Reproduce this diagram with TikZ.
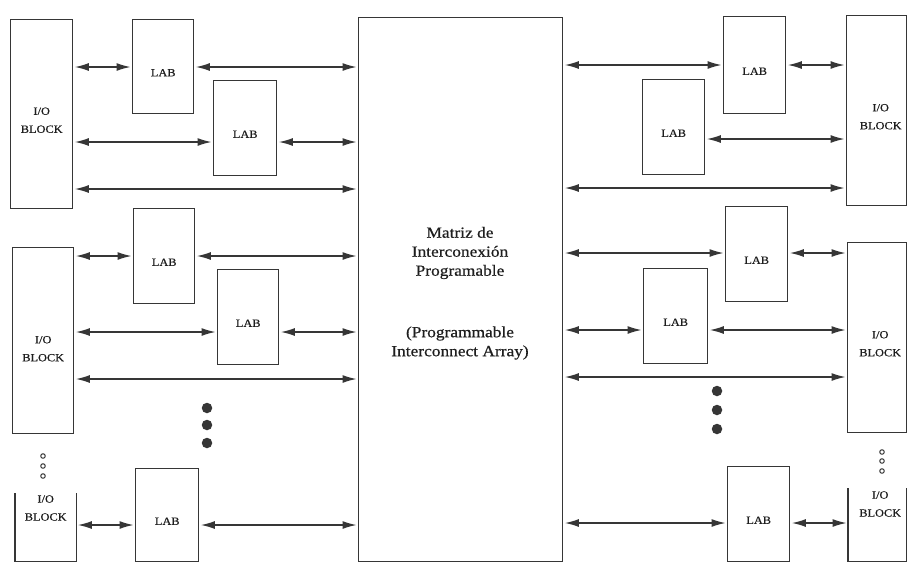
\documentclass[tikz,border=0pt]{standalone}
\usepackage{fontspec}
\setmainfont[FakeStretch=1.12,FakeBold=0.5]{Liberation Serif}
\usetikzlibrary{arrows.meta}
\definecolor{ink}{HTML}{363636}
\definecolor{txt}{HTML}{1E1E1E}
\begin{document}
\begin{tikzpicture}[x=1pt,y=-1pt,
  box/.style={draw=ink, line width=1.4pt, rectangle, inner sep=0pt, anchor=north west},
  openbox/.style={rectangle, inner sep=0pt, anchor=north west},
  edge/.style={draw=ink, line width=1.4pt},
  lbl/.style={text=txt, font=\fontsize{11}{18}\selectfont, align=center, inner sep=0pt},
  big/.style={text=txt, font=\fontsize{15.5}{19}\selectfont, align=center, inner sep=0pt},
  arr/.style={draw=ink, line width=1.3pt, {Latex[length=14pt,width=8pt]}-{Latex[length=14pt,width=8pt]}, shorten <=1.5pt, shorten >=1.5pt},
  dot/.style={circle, fill=ink, inner sep=0pt, minimum size=10.5pt},
  ring/.style={circle, draw=ink, line width=1pt, inner sep=0pt, minimum size=4.5pt}
]
\useasboundingbox[fill=white] (0,0) rectangle (907,563);

% central matrix
\node[box, minimum width=204pt, minimum height=544pt] (pia) at (358,17) {};
\node[big] (piat1) at (460,253) {Matriz de\\Interconexión\\Programable};
\node[big] (piat2) at (460,343) {(Programmable\\Interconnect Array)};

% left side blocks
\node[box, minimum width=62pt, minimum height=189pt] (io1) at (10,19) {};
\node[box, minimum width=61pt, minimum height=94pt] (lab1) at (132,19) {};
\node[box, minimum width=63pt, minimum height=95pt] (lab2) at (213,80) {};
\node[box, minimum width=61pt, minimum height=95pt] (lab3) at (133,208) {};
\node[box, minimum width=61pt, minimum height=186pt] (io2) at (12,247) {};
\node[box, minimum width=61pt, minimum height=95pt] (lab4) at (217,269) {};
\node[openbox, minimum width=61pt, minimum height=68pt] (io3) at (15,493) {};
\draw[edge] (io3.north west) -- (io3.south west) -- (io3.south east) -- (io3.north east);
\node[box, minimum width=63pt, minimum height=93pt] (lab5) at (135,468) {};

% right side blocks
\node[box, minimum width=62pt, minimum height=97pt] (labr1) at (723,16) {};
\node[box, minimum width=60pt, minimum height=190pt] (ior1) at (846,15) {};
\node[box, minimum width=62pt, minimum height=95pt] (labr2) at (642,79) {};
\node[box, minimum width=62pt, minimum height=95pt] (labr3) at (725,206) {};
\node[box, minimum width=59pt, minimum height=190pt] (ior2) at (847,242) {};
\node[box, minimum width=64pt, minimum height=95pt] (labr4) at (643,268) {};
\node[box, minimum width=62pt, minimum height=95pt] (labr5) at (727,466) {};
\node[openbox, minimum width=58pt, minimum height=73pt] (ior3) at (848,488) {};
\draw[edge] (ior3.north west) -- (ior3.south west) -- (ior3.south east) -- (ior3.north east);

% labels
\foreach \b in {lab1,lab2,lab3,lab4,lab5,labr1,labr2,labr3,labr4,labr5}
  \node[lbl] (\b t) at ([yshift=-6pt]\b.center) {LAB};
\node[lbl] (io1t) at ([yshift=-6pt]io1.center) {I/O\\BLOCK};
\node[lbl] (io2t) at ([yshift=-8pt]io2.center) {I/O\\BLOCK};
\node[lbl] (io3t) at ([yshift=-15pt]io3.north) {I/O\\BLOCK};
\node[lbl] (ior1t) at ([yshift=-6pt,xshift=4pt]ior1.center) {I/O\\BLOCK};
\node[lbl] (ior2t) at ([yshift=-6pt,xshift=3pt]ior2.center) {I/O\\BLOCK};
\node[lbl] (ior3t) at ([yshift=-16pt,xshift=3pt]ior3.north) {I/O\\BLOCK};

% row levels
\coordinate (yA) at (0,67);  \coordinate (yB) at (0,142); \coordinate (yC) at (0,189);
\coordinate (yD) at (0,256); \coordinate (yE) at (0,332); \coordinate (yF) at (0,379);
\coordinate (yG) at (0,525);
\coordinate (ya) at (0,65);  \coordinate (yb) at (0,139); \coordinate (yc) at (0,188);
\coordinate (yd) at (0,253); \coordinate (ye) at (0,330); \coordinate (yf) at (0,377);
\coordinate (yg) at (0,523);

% left connectors
\draw[arr] (io1.east |- yA) -- (lab1.west |- yA);
\draw[arr] (lab1.east |- yA) -- (pia.west |- yA);
\draw[arr] (io1.east |- yB) -- (lab2.west |- yB);
\draw[arr] (lab2.east |- yB) -- (pia.west |- yB);
\draw[arr] (io1.east |- yC) -- (pia.west |- yC);
\draw[arr] (io2.east |- yD) -- (lab3.west |- yD);
\draw[arr] (lab3.east |- yD) -- (pia.west |- yD);
\draw[arr] (io2.east |- yE) -- (lab4.west |- yE);
\draw[arr] (lab4.east |- yE) -- (pia.west |- yE);
\draw[arr] (io2.east |- yF) -- (pia.west |- yF);
\draw[arr] (io3.east |- yG) -- (lab5.west |- yG);
\draw[arr] (lab5.east |- yG) -- (pia.west |- yG);

% right connectors
\draw[arr] (pia.east |- ya) -- (labr1.west |- ya);
\draw[arr] (labr1.east |- ya) -- (ior1.west |- ya);
\draw[arr] (labr2.east |- yb) -- (ior1.west |- yb);
\draw[arr] (pia.east |- yc) -- (ior1.west |- yc);
\draw[arr] (pia.east |- yd) -- (labr3.west |- yd);
\draw[arr] (labr3.east |- yd) -- (ior2.west |- yd);
\draw[arr] (pia.east |- ye) -- (labr4.west |- ye);
\draw[arr] (labr4.east |- ye) -- (ior2.west |- ye);
\draw[arr] (pia.east |- yf) -- (ior2.west |- yf);
\draw[arr] (pia.east |- yg) -- (labr5.west |- yg);
\draw[arr] (labr5.east |- yg) -- (ior3.west |- yg);

% continuation dots
\node[dot] (dl1) at (207,408) {};
\node[dot] (dl2) at (207,425) {};
\node[dot] (dl3) at (207,443) {};
\node[dot] (dr1) at (717,391) {};
\node[dot] (dr2) at (717,410) {};
\node[dot] (dr3) at (717,429) {};
\node[ring] (rl1) at (43,456) {};
\node[ring] (rl2) at (43,466) {};
\node[ring] (rl3) at (43,476) {};
\node[ring] (rr1) at (882,452) {};
\node[ring] (rr2) at (882,461) {};
\node[ring] (rr3) at (882,471) {};
\end{tikzpicture}
\end{document}
